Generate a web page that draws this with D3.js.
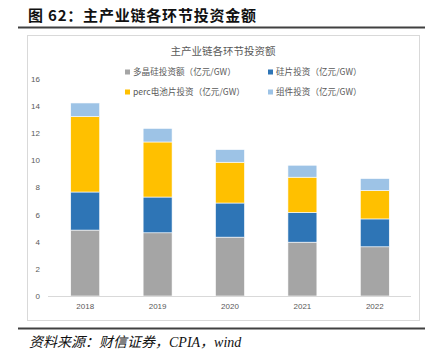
<!DOCTYPE html>
<html><head><meta charset="utf-8">
<script src="https://cdn.jsdelivr.net/npm/d3@7"></script>
<style>
body{margin:0;background:#fff;}
svg{display:block;font-family:"Noto Sans CJK SC","Liberation Sans",sans-serif;}
</style></head>
<body><svg id="c" width="434" height="363"></svg>
<script>
const years=['2018','2019','2020','2021','2022'];
const polySi=[4.85,4.65,4.33,3.96,3.62];
const wafer=[2.8,2.63,2.51,2.19,2.05];
const cell=[5.55,4.05,3.0,2.59,2.09];
const module=[1.0,1.0,0.93,0.88,0.88];
const seriesNames=['多晶硅投资额（亿元/GW）','硅片投资（亿元/GW）','perc电池片投资（亿元/GW）','组件投资（亿元/GW）'];
const colors=['#A5A5A5','#2E75B6','#FFC000','#9DC3E6'];
const yTicks=[0,2,4,6,8,10,12,14,16];

const svg=d3.select('#c');
// header
svg.append('text').attr('x',28).attr('y',21).attr('font-size',15).attr('font-weight','bold').attr('fill','#111')
  .attr('letter-spacing',0.8).attr('font-family','"Noto Sans CJK SC",sans-serif').text('图 62：主产业链各环节投资金额');
svg.append('rect').attr('x',18).attr('y',26.5).attr('width',407).attr('height',2).attr('fill','#404040');
// chart box
svg.append('rect').attr('x',27.5).attr('y',35.5).attr('width',392).attr('height',285).attr('fill','#fff').attr('stroke','#d9d9d9');
svg.append('text').attr('x',223).attr('y',54.5).attr('text-anchor','middle').attr('font-size',10.5).attr('fill','#595959').text('主产业链各环节投资额');

// legend
const legPos=[[127,72],[270,72],[127,92],[270,92]];
seriesNames.forEach((n,i)=>{
  const g=svg.append('g').attr('transform',`translate(${legPos[i][0]},${legPos[i][1]})`);
  g.append('rect').attr('x',-2).attr('y',-2.5).attr('width',5).attr('height',5).attr('fill',colors[i]);
  g.append('text').attr('x',6).attr('y',3.2).attr('font-size',8.6).attr('fill','#595959').text(n);
});

const x=d3.scaleBand().domain(years).range([49,411]).paddingInner(0.6).paddingOuter(0.3);
const y=d3.scaleLinear().domain([0,16]).range([296,78.5]);

const rows=years.map((yr,i)=>({year:yr,a:polySi[i],b:wafer[i],c:cell[i],d:module[i]}));
const stack=d3.stack().keys(['a','b','c','d'])(rows);
svg.append('g').selectAll('g').data(stack).join('g').attr('fill',(d,i)=>colors[i])
  .selectAll('rect').data(d=>d).join('rect')
  .attr('x',d=>x(d.data.year)).attr('width',x.bandwidth())
  .attr('y',d=>y(d[1])).attr('height',d=>y(d[0])-y(d[1]))
  .attr('stroke','#fff').attr('stroke-width',0.6);

// axes
const ya=svg.append('g').attr('transform','translate(40,0)').call(d3.axisLeft(y).tickValues(yTicks).tickSize(0).tickPadding(0));
ya.select('.domain').remove();
ya.selectAll('text').attr('font-size',8).attr('fill','#595959').attr('font-family','"Liberation Sans",sans-serif');
svg.append('line').attr('x1',48).attr('x2',411).attr('y1',296.5).attr('y2',296.5).attr('stroke','#d9d9d9');
const xa=svg.append('g').attr('transform','translate(0,296)').call(d3.axisBottom(x).tickSize(0).tickPadding(7));
xa.select('.domain').remove();
xa.selectAll('text').attr('font-size',8).attr('fill','#595959').attr('font-family','"Liberation Sans",sans-serif');

// footer
svg.append('rect').attr('x',18).attr('y',327.5).attr('width',407).attr('height',2).attr('fill','#404040');
svg.append('text').attr('x',29).attr('y',347).attr('font-size',14).attr('font-style','italic').attr('fill','#111')
  .attr('font-family','"Liberation Serif","Noto Sans CJK SC",serif').text('资料来源：财信证券，CPIA，wind');
</script></body></html>
